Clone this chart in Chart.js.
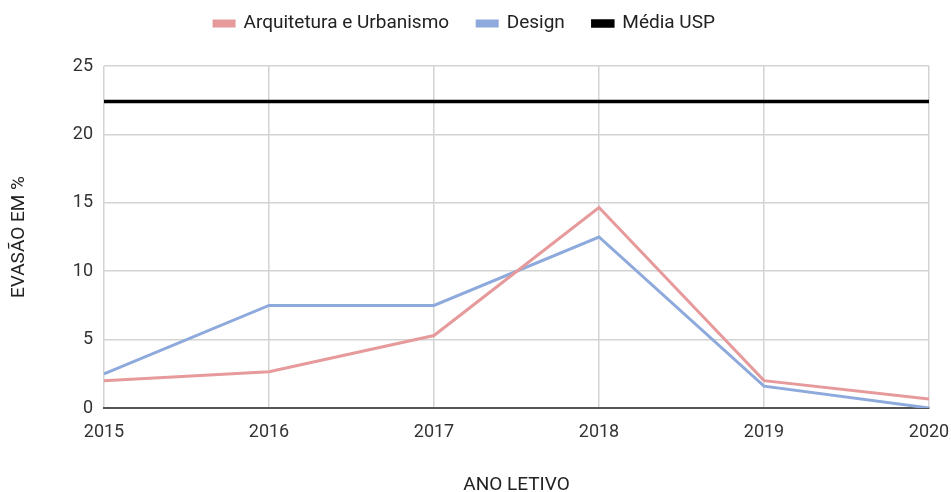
<!DOCTYPE html>
<html>
<head>
<meta charset="utf-8">
<script src="https://cdn.jsdelivr.net/npm/chart.js@4.4.1/dist/chart.umd.min.js"></script>
<style>
  html, body { margin: 0; padding: 0; background: #fff; }
  #wrap { width: 951px; height: 492px; }
</style>
</head>
<body>
<div id="wrap"><canvas id="evasao" width="951" height="492"></canvas></div>
<script>
// Evasão por ano letivo
const years = ['2015', '2016', '2017', '2018', '2019', '2020'];
const arquitetura = [2.0, 2.65, 5.3, 14.65, 2.0, 0.65];
const design = [2.5, 7.5, 7.5, 12.5, 1.6, 0];
const mediaUsp = [22.4, 22.4, 22.4, 22.4, 22.4, 22.4];
const yTicks = [0, 5, 10, 15, 20, 25];

const PINK = '#e69a9b';
const BLUE = '#8eaadc';
const GRID = '#d3d3d3';

// legend block takes a fixed strip above the plot
// (layout top padding is negative so the wide item padding doesn't push the row down)
const legendHeight = {
  id: 'legendHeight',
  beforeInit(chart) {
    const fit = chart.legend.fit;
    chart.legend.fit = function () {
      fit.bind(chart.legend)();
      this.height = 80;
    };
  }
};

new Chart(document.getElementById('evasao'), {
  type: 'line',
  data: {
    labels: years,
    datasets: [
      {
        label: 'Arquitetura e Urbanismo',
        data: arquitetura,
        borderColor: PINK,
        backgroundColor: PINK,
        borderWidth: 3,
        pointRadius: 0,
        tension: 0
      },
      {
        label: 'Design',
        data: design,
        borderColor: BLUE,
        backgroundColor: BLUE,
        borderWidth: 3,
        pointRadius: 0,
        tension: 0
      },
      {
        label: 'Média USP',
        data: mediaUsp,
        borderColor: '#000',
        backgroundColor: '#000',
        borderWidth: 3.5,
        pointRadius: 0,
        tension: 0
      }
    ]
  },
  options: {
    animation: false,
    responsive: false,
    layout: { padding: { left: 0, right: 22, top: -14, bottom: 0 } },
    scales: {
      x: {
        offset: false,
        grid: { color: GRID, lineWidth: 1.5, drawTicks: false },
        border: { color: '#555', width: 2 },
        ticks: {
          color: '#333',
          padding: 14,
          maxRotation: 0,
          autoSkip: false,
          font: { family: 'Roboto', size: 18 }
        },
        title: {
          display: true,
          text: 'ANO LETIVO',
          color: '#222',
          padding: { top: 0, bottom: -3 },
          font: { family: 'Roboto', size: 19, lineHeight: 1 }
        },
        afterFit(scale) {
          scale.height = 84;
          // let the last year label run to the canvas edge
          scale.paddingLeft = 0;
          scale.paddingRight = 0;
        }
      },
      y: {
        min: 0,
        max: 25,
        afterBuildTicks(scale) {
          scale.ticks = yTicks.map(v => ({ value: v }));
        },
        grid: {
          color: ctx => (ctx.tick && ctx.tick.value === 0 ? '#555' : GRID),
          lineWidth: ctx => (ctx.tick && ctx.tick.value === 0 ? 2 : 1.5),
          drawTicks: false
        },
        border: { display: false },
        ticks: {
          color: '#333',
          padding: 11,
          font: { family: 'Roboto', size: 18 }
        },
        title: {
          display: true,
          text: 'EVASÃO EM %',
          color: '#222',
          padding: { top: 10, bottom: 0 },
          font: { family: 'Roboto', size: 19, lineHeight: 1 }
        },
        afterFit(scale) { scale.width = 104; }
      }
    },
    plugins: {
      legend: {
        display: true,
        position: 'top',
        labels: {
          color: '#222',
          boxWidth: 20,
          boxHeight: 5,
          padding: 28,
          font: { family: 'Roboto', size: 19 }
        }
      },
      tooltip: { enabled: false }
    }
  },
  plugins: [legendHeight]
});
</script>
</body>
</html>
